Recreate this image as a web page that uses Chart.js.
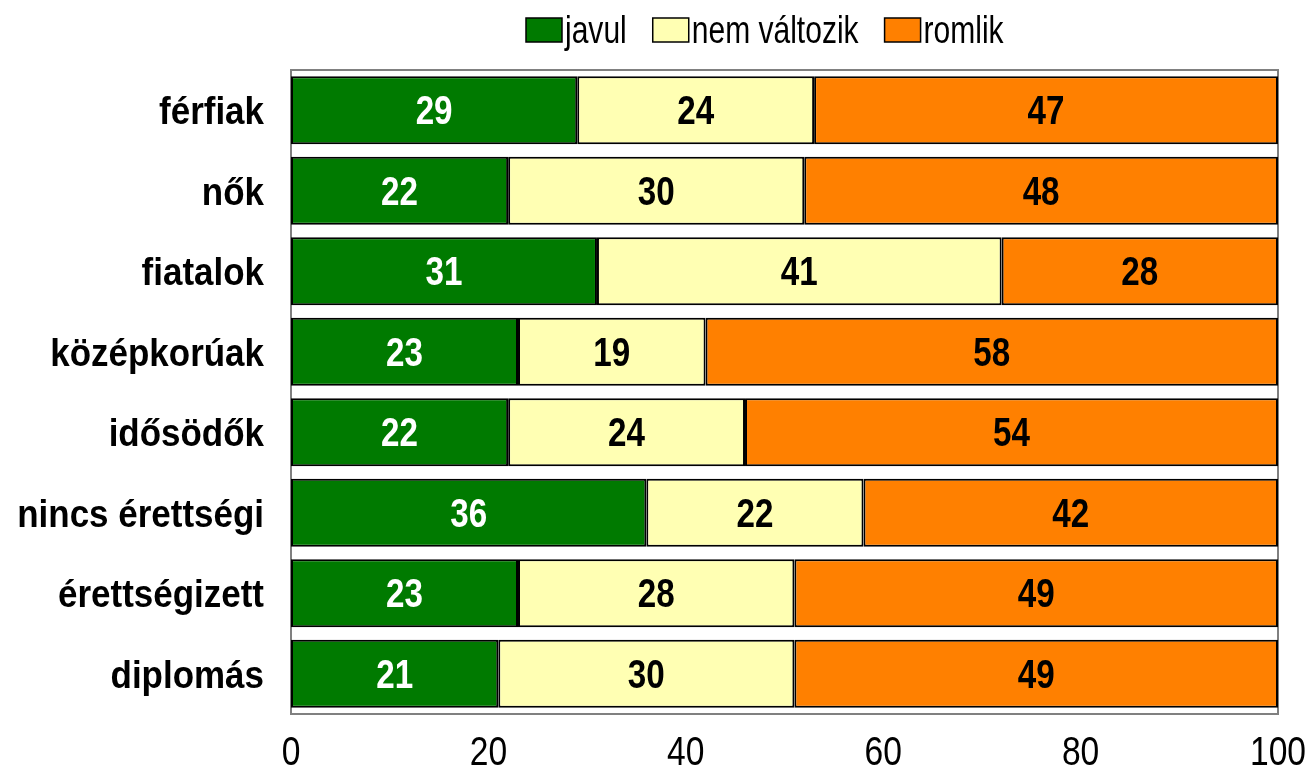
<!DOCTYPE html>
<html>
<head>
<meta charset="utf-8">
<script src="https://cdn.jsdelivr.net/npm/chart.js@4.4.0/dist/chart.umd.min.js"></script>
<style>
  html, body { margin: 0; padding: 0; background: #fff; }
</style>
</head>
<body>
<canvas id="chart" width="1308" height="768"></canvas>
<script>
const categories = ['férfiak', 'nők', 'fiatalok', 'középkorúak', 'idősödők', 'nincs érettségi', 'érettségizett', 'diplomás'];
const javul = [29, 22, 31, 23, 22, 36, 23, 21];
const nemValtozik = [24, 30, 41, 19, 24, 22, 28, 30];
const romlik = [47, 48, 28, 58, 54, 42, 49, 49];
const seriesNames = ['javul', 'nem változik', 'romlik'];
const xTicks = [0, 20, 40, 60, 80, 100];

const colors = ['#007a00', '#ffffb3', '#ff8000'];
const labelColors = ['#ffffff', '#000000', '#000000'];
const fontFam = "'Liberation Sans', Arial, sans-serif";

// no narrow font installed, so squeeze the text sideways
function narrowText(ctx, text, x, y, sx) {
  ctx.save();
  ctx.translate(x, y);
  ctx.scale(sx, 1);
  ctx.fillText(text, 0, 0);
  ctx.restore();
}

// grey frame round the plot area
const framePlugin = {
  id: 'frame',
  beforeDatasetsDraw(chart) {
    const a = chart.chartArea, ctx = chart.ctx;
    ctx.save();
    ctx.strokeStyle = '#808080';
    ctx.lineWidth = 2;
    ctx.strokeRect(a.left, a.top, a.right - a.left, a.bottom - a.top);
    ctx.restore();
  }
};

// numbers in the middle of each segment
const valuePlugin = {
  id: 'values',
  afterDatasetsDraw(chart) {
    const ctx = chart.ctx;
    ctx.save();
    ctx.font = 'bold 40px ' + fontFam;
    ctx.textAlign = 'center';
    ctx.textBaseline = 'alphabetic';
    chart.data.datasets.forEach((ds, i) => {
      chart.getDatasetMeta(i).data.forEach((bar, j) => {
        ctx.fillStyle = labelColors[i];
        narrowText(ctx, String(ds.data[j]), (bar.x + bar.base) / 2, bar.y + 14, 0.83);
      });
    });
    ctx.restore();
  }
};

// axis labels, placed with the chart's own scales
const axisTextPlugin = {
  id: 'axisText',
  afterDraw(chart) {
    const ctx = chart.ctx, xs = chart.scales.x, ys = chart.scales.y;
    ctx.save();
    ctx.fillStyle = '#000';
    ctx.textBaseline = 'alphabetic';
    ctx.font = '40px ' + fontFam;
    ctx.textAlign = 'center';
    xTicks.forEach((v) => narrowText(ctx, String(v), xs.getPixelForValue(v), 765, 0.84));
    ctx.font = 'bold 38px ' + fontFam;
    ctx.textAlign = 'right';
    categories.forEach((c, i) => narrowText(ctx, c, 264, ys.getPixelForValue(i) + 14, 0.92));
    ctx.restore();
  }
};

// legend drawn by hand so the box/text spacing matches
const legendPlugin = {
  id: 'ownLegend',
  afterDraw(chart) {
    const ctx = chart.ctx, sx = 0.79;
    ctx.save();
    ctx.font = '38px ' + fontFam;
    ctx.textBaseline = 'alphabetic';
    ctx.textAlign = 'left';
    let x = 526;
    chart.data.datasets.forEach((ds) => {
      ctx.fillStyle = ds.backgroundColor;
      ctx.fillRect(x, 18, 36, 24);
      ctx.strokeStyle = '#000';
      ctx.lineWidth = 1.5;
      ctx.strokeRect(x, 18, 36, 24);
      ctx.fillStyle = '#000';
      narrowText(ctx, ds.label, x + 39, 43, sx);
      x += 39 + ctx.measureText(ds.label).width * sx + 26;
    });
    ctx.restore();
  }
};

const makeSet = (i, data) => ({
  label: seriesNames[i],
  data: data,
  backgroundColor: colors[i],
  borderColor: '#000',
  borderWidth: 2,
  borderSkipped: false,
  barPercentage: 0.845,
  categoryPercentage: 1.0,
});

new Chart('chart', {
  type: 'bar',
  data: {
    labels: categories,
    datasets: [makeSet(0, javul), makeSet(1, nemValtozik), makeSet(2, romlik)],
  },
  options: {
    indexAxis: 'y',
    responsive: false,
    devicePixelRatio: 1,
    animation: false,
    layout: { padding: { top: 70, right: 30, left: 0, bottom: 0 } },
    plugins: {
      legend: { display: false },
      tooltip: { enabled: false },
    },
    scales: {
      x: {
        stacked: true,
        min: 0,
        max: 100,
        afterFit: (s) => { s.height = 54; },
        grid: { display: false, drawTicks: false },
        border: { display: false },
        ticks: { display: false, stepSize: 20 },
      },
      y: {
        stacked: true,
        afterFit: (s) => { s.width = 291; },
        grid: { display: false, drawTicks: false },
        border: { display: false },
        ticks: { display: false },
      },
    },
  },
  plugins: [framePlugin, valuePlugin, axisTextPlugin, legendPlugin],
});
</script>
</body>
</html>
